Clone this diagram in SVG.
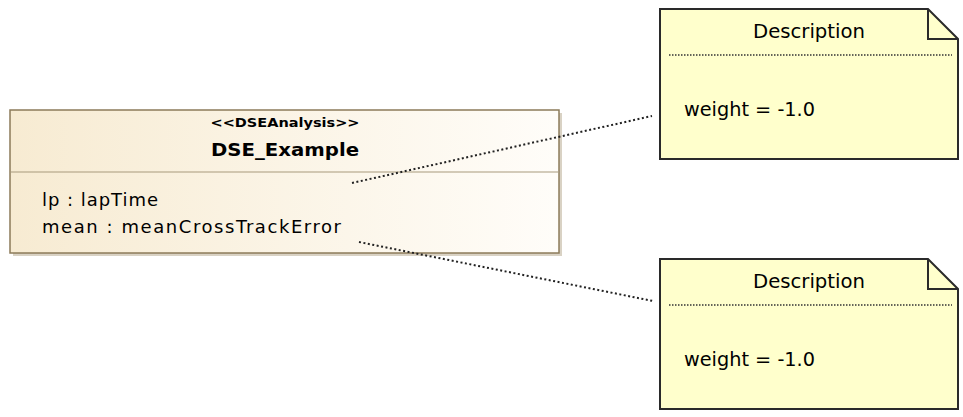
<svg xmlns="http://www.w3.org/2000/svg" width="963" height="417" viewBox="0 0 963 417">
<style>
.t{font-family:"DejaVu Sans","Liberation Sans",Arial,sans-serif;fill:#000}
.note{fill:#ffffcc;stroke:#2a2a2a;stroke-width:2}
.fold{fill:none;stroke:#2a2a2a;stroke-width:2}
.sep{stroke:#333;stroke-width:1.5;stroke-dasharray:1.5,1.5}
.conn{stroke:#222;stroke-width:2;stroke-dasharray:2,2.5;fill:none}
</style>
<defs>
<linearGradient id="g" x1="0" y1="0" x2="1" y2="0">
<stop offset="0" stop-color="#f7ebd2"/>
<stop offset="1" stop-color="#fffdf9"/>
</linearGradient>
</defs>
<g id="DSE_Example">
<rect x="13" y="113" width="549" height="143" fill="#d9d2c4"/>
<rect x="10" y="110" width="549" height="143" fill="url(#g)" stroke="#8c7b5a" stroke-width="1.5"/>
<line x1="11" y1="172" x2="558" y2="172" stroke="#a8997c" stroke-width="1.2"/>
<text class="t" x="285" y="127" font-size="12" font-weight="bold" text-anchor="middle" textLength="149" lengthAdjust="spacingAndGlyphs">&lt;&lt;DSEAnalysis&gt;&gt;</text>
<text class="t" x="285" y="156" font-size="18" font-weight="bold" text-anchor="middle" textLength="148" lengthAdjust="spacingAndGlyphs">DSE_Example</text>
<text class="t" x="42" y="206" font-size="18" textLength="116" lengthAdjust="spacing">lp : lapTime</text>
<text class="t" x="42" y="233" font-size="18" textLength="299" lengthAdjust="spacing">mean : meanCrossTrackError</text>
</g>
<g id="note1">
<path class="note" d="M660,9 L928,9 L958,39 L958,159 L660,159 Z"/>
<path class="fold" d="M928,9 L928,39 L958,39"/>
<line class="sep" x1="669" y1="55" x2="952" y2="55"/>
<text class="t" x="809" y="38" font-size="19" text-anchor="middle" textLength="112" lengthAdjust="spacingAndGlyphs">Description</text>
<text class="t" x="684" y="116" font-size="19" textLength="131" lengthAdjust="spacingAndGlyphs">weight = -1.0</text>
</g>
<g id="note2">
<path class="note" d="M660,259 L928,259 L958,289 L958,409 L660,409 Z"/>
<path class="fold" d="M928,259 L928,289 L958,289"/>
<line class="sep" x1="669" y1="305" x2="952" y2="305"/>
<text class="t" x="809" y="288" font-size="19" text-anchor="middle" textLength="112" lengthAdjust="spacingAndGlyphs">Description</text>
<text class="t" x="684" y="366" font-size="19" textLength="131" lengthAdjust="spacingAndGlyphs">weight = -1.0</text>
</g>
<g id="connectors">
<line class="conn" x1="352" y1="183" x2="652" y2="116"/>
<line class="conn" x1="359" y1="242" x2="653" y2="301"/>
</g>
</svg>
